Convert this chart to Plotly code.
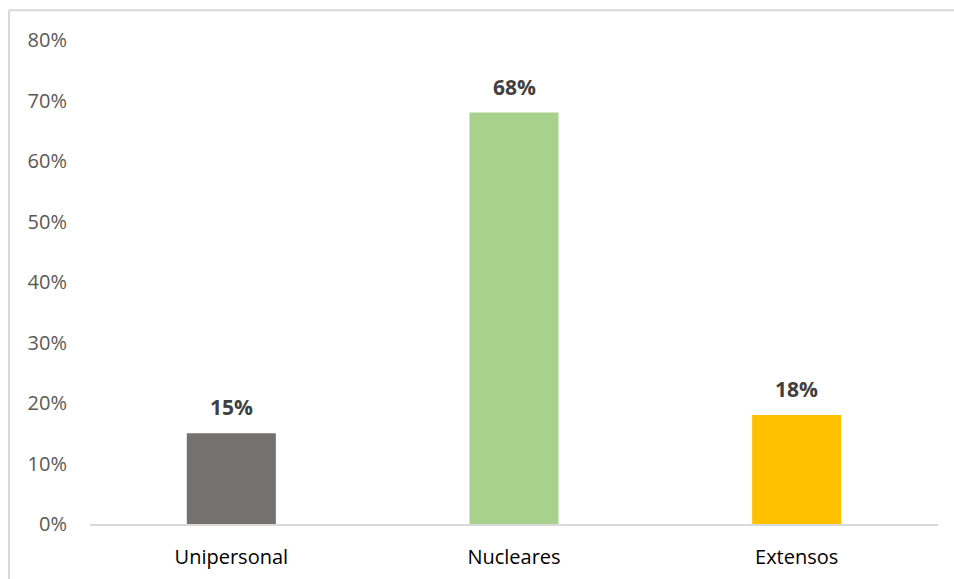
import plotly.graph_objects as go

# Household types and their share
categories = ["Unipersonal", "Nucleares", "Extensos"]
shares = [0.15, 0.68, 0.18]
bar_colors = ["#767171", "#A9D18E", "#FFC000"]
y_ticks = [0, 0.1, 0.2, 0.3, 0.4, 0.5, 0.6, 0.7, 0.8]
y_tick_labels = [f"{int(round(v * 100))}%" for v in y_ticks]

FONT = "Open Sans"

fig = go.Figure(
    go.Bar(
        x=categories,
        y=shares,
        marker=dict(color=bar_colors, line=dict(width=0)),
        width=0.315,
        hoverinfo="skip",
    )
)

# value labels above each bar
for cat, val in zip(categories, shares):
    fig.add_annotation(
        x=cat, y=val, text=f"<b>{int(round(val * 100))}%</b>",
        showarrow=False, yanchor="bottom", yshift=10,
        font=dict(family=FONT, size=21, color="#404040"),
    )

# light frame along the top and left edges
frame = dict(color="#d9d9d9", width=2)
fig.add_shape(type="line", xref="paper", yref="paper",
              x0=-0.0955, x1=1.02, y0=1.0615, y1=1.0615, line=frame)
fig.add_shape(type="line", xref="paper", yref="paper",
              x0=-0.0955, x1=-0.0955, y0=1.0615, y1=-0.12, line=frame)

fig.update_layout(
    width=954, height=579,
    margin=dict(l=90, r=16, t=40, b=55, autoexpand=False),
    paper_bgcolor="white", plot_bgcolor="white",
    showlegend=False,
    font=dict(family=FONT),
    xaxis=dict(
        showline=True, linecolor="#d9d9d9", linewidth=1.5,
        showgrid=False, ticks="", ticklabelstandoff=14,
        tickfont=dict(family=FONT, size=20, color="#000000"),
        fixedrange=True, automargin=False,
    ),
    yaxis=dict(
        range=[0, 0.8], tickvals=y_ticks, ticktext=y_tick_labels,
        showgrid=False, zeroline=False, showline=False, ticks="",
        ticklabelstandoff=22,
        tickfont=dict(family=FONT, size=20, color="#595959"),
        fixedrange=True, automargin=False,
    ),
)

fig.write_html("out.html")
